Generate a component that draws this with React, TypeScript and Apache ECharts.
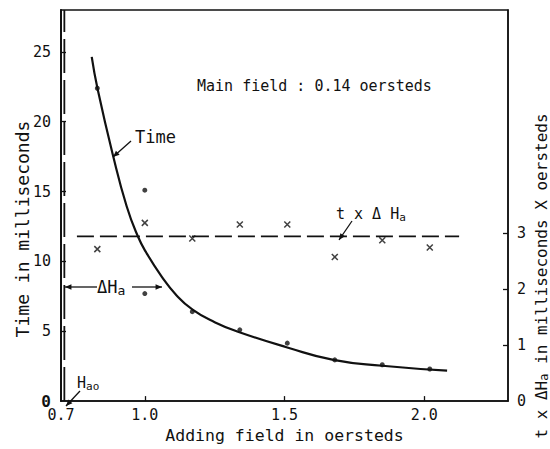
import React, { useEffect, useRef } from "react";
import * as echarts from "echarts";

// Axis ticks / labels
const xLabelValues = [0.7, 1.0, 1.5, 2.0];
const xTickValues = [1.0, 1.5, 2.0];
const timeLabelValues = [0, 5, 10, 15, 20, 25];
const timeTickValues = [5, 10, 15, 20, 25];
const productLabelValues = [0, 1, 2, 3];
const productTickValues = [1, 2, 3];

// Fitted "Time" curve
const curveField = [0.81, 0.831, 0.886, 0.935, 0.975, 1.006, 1.061, 1.11, 1.171, 1.25, 1.336, 1.507, 1.675, 1.85, 2.082];
const curveTime = [24.65, 22.35, 17.6, 13.95, 11.8, 10.6, 8.9, 7.65, 6.55, 5.65, 4.95, 3.86, 2.95, 2.53, 2.18];

// Measured time points (dots)
const dotField = [0.83, 1.0, 1.0, 1.17, 1.34, 1.51, 1.68, 1.85, 2.02];
const dotTime = [22.4, 15.1, 7.7, 6.4, 5.1, 4.15, 2.95, 2.6, 2.3];

// t x ΔHa points (crosses)
const crossField = [0.83, 1.0, 1.17, 1.34, 1.51, 1.68, 1.85, 2.02];
const crossProduct = [2.72, 3.19, 2.91, 3.16, 3.16, 2.58, 2.88, 2.75];

// Mean t x ΔHa dashed line
const meanField = [0.757, 2.125];
const meanProduct = 2.95;

// Hao dashed vertical line
const haoField = 0.712;
const timeRange = [0, 28];

const FONT = "DejaVu Sans Mono";
const INK = "#111";

function arrow(x1: number, y1: number, x2: number, y2: number, head = 7) {
  const ang = Math.atan2(y2 - y1, x2 - x1);
  const a1 = ang + Math.PI * 0.87;
  const a2 = ang - Math.PI * 0.87;
  return [
    { type: "line", shape: { x1, y1, x2, y2 }, style: { stroke: INK, lineWidth: 1.3 }, z: 10 },
    {
      type: "polygon",
      shape: {
        points: [
          [x2, y2],
          [x2 + head * Math.cos(a1), y2 + head * Math.sin(a1)],
          [x2 + head * Math.cos(a2), y2 + head * Math.sin(a2)],
        ],
      },
      style: { fill: INK },
      z: 10,
    },
  ];
}

function txt(text: string, x: number, y: number, size: number, extra: any = {}) {
  return {
    type: "text",
    x,
    y,
    z: 10,
    rotation: extra.rotation || 0,
    style: {
      text,
      fontFamily: FONT,
      fontSize: size,
      fill: INK,
      align: extra.align || "left",
      verticalAlign: "middle",
      textAlign: extra.align || "left",
      textVerticalAlign: "middle",
      rich: extra.rich,
    },
  };
}

export default function App() {
  const ref = useRef<HTMLDivElement>(null);
  useEffect(() => {
    if (!ref.current) return;
    const chart = echarts.init(ref.current, null, { renderer: "svg" });
    const sub = (size: number) => ({
      m: { fontFamily: FONT, fontSize: size, color: INK, lineHeight: size + 2 },
      s: { fontFamily: FONT, fontSize: size - 4, color: INK, lineHeight: 8, verticalAlign: "bottom" },
    });
    const option: any = {
      animation: false,
      backgroundColor: "#fff",
      grid: {
        show: true,
        left: 61,
        right: 42,
        top: 10,
        bottom: 40,
        borderColor: INK,
        borderWidth: 1.5,
        containLabel: false,
      },
      xAxis: {
        type: "value",
        min: 0.7,
        max: 2.3,
        name: "Adding field in oersteds",
        nameLocation: "middle",
        nameGap: 23,
        nameTextStyle: { fontFamily: FONT, fontSize: 16.5, color: INK },
        axisLine: { show: true, lineStyle: { color: INK, width: 1.5 } },
        axisTick: { show: true, inside: true, length: 5, customValues: xTickValues, lineStyle: { color: INK, width: 1.3 } },
        axisLabel: {
          customValues: xLabelValues,
          showMinLabel: true,
          formatter: (v: number) => v.toFixed(1),
          fontFamily: FONT,
          fontSize: 15,
          color: INK,
          margin: 6,
        },
        splitLine: { show: false },
      },
      yAxis: [
        {
          type: "value",
          min: timeRange[0],
          max: timeRange[1],
          position: "left",
          axisLine: { show: true, lineStyle: { color: INK, width: 2 } },
          axisTick: { show: true, inside: true, length: 5, customValues: timeTickValues, lineStyle: { color: INK, width: 1.3 } },
          axisLabel: {
            customValues: timeLabelValues,
            showMinLabel: true,
            formatter: (v: number) => (v === 0 ? "{b|0}" : String(v)),
            rich: { b: { fontFamily: FONT, fontSize: 16, fontWeight: "bold", color: INK } },
            fontFamily: FONT,
            fontSize: 15,
            color: INK,
            margin: 10,
          },
          splitLine: { show: false },
        },
        {
          type: "value",
          min: 0,
          max: 7,
          position: "right",
          axisLine: { show: true, lineStyle: { color: INK, width: 1.5 } },
          axisTick: { show: true, inside: true, length: 5, customValues: productTickValues, lineStyle: { color: INK, width: 1.3 } },
          axisLabel: {
            customValues: productLabelValues,
            showMinLabel: true,
            fontFamily: FONT,
            fontSize: 15,
            color: INK,
            margin: 9,
          },
          splitLine: { show: false },
        },
      ],
      series: [
        {
          type: "line",
          yAxisIndex: 0,
          data: curveField.map((f, i) => [f, curveTime[i]]),
          smooth: 0.5,
          symbol: "none",
          lineStyle: { color: INK, width: 2.2 },
          z: 5,
        },
        {
          type: "scatter",
          yAxisIndex: 0,
          data: dotField.map((f, i) => [f, dotTime[i]]),
          symbol: "circle",
          symbolSize: 5,
          itemStyle: { color: INK },
          z: 6,
        },
        {
          type: "scatter",
          yAxisIndex: 1,
          data: crossField.map((f, i) => [f, crossProduct[i]]),
          symbol: "path://M0,0L10,10M10,0L0,10",
          symbolSize: 6,
          itemStyle: { color: "none", borderColor: INK, borderWidth: 1.5 },
          z: 6,
        },
        {
          type: "line",
          yAxisIndex: 1,
          data: meanField.map((f) => [f, meanProduct]),
          symbol: "none",
          lineStyle: { color: INK, width: 1.8, type: [17, 6] },
          z: 4,
        },
        {
          type: "line",
          yAxisIndex: 0,
          data: timeRange.map((t) => [haoField, t]),
          symbol: "none",
          lineStyle: { color: INK, width: 1.8, type: [34, 7] },
          z: 4,
        },
      ],
      graphic: [
        txt("Time in milliseconds", 22, 229, 18, { rotation: Math.PI / 2, align: "center" }),
        txt("{m|t x ΔH}{s|a}{m| in milliseconds X oersteds}", 541, 276, 16, {
          rotation: Math.PI / 2,
          align: "center",
          rich: sub(16),
        }),
        txt("Main field : 0.14 oersteds", 197, 86, 15),
        txt("Time", 135, 137, 17),
        ...arrow(131, 141, 113, 157),
        txt("{m|t x Δ H}{s|a}", 336, 214, 15, { rich: sub(15) }),
        ...arrow(352, 221, 339, 240),
        txt("{m|ΔH}{s|a}", 97, 287, 17, { rich: sub(17) }),
        ...arrow(97, 287, 65, 287),
        ...arrow(132, 287, 162, 287),
        txt("{m|H}{s|ao}", 77, 383, 15, { rich: sub(15) }),
        ...arrow(80, 391, 66, 406),
      ],
    };
    chart.setOption(option);
    return () => chart.dispose();
  }, []);
  return <div ref={ref} style={{ width: 550, height: 449, position: "absolute", left: 0, top: 0 }} />;
}
